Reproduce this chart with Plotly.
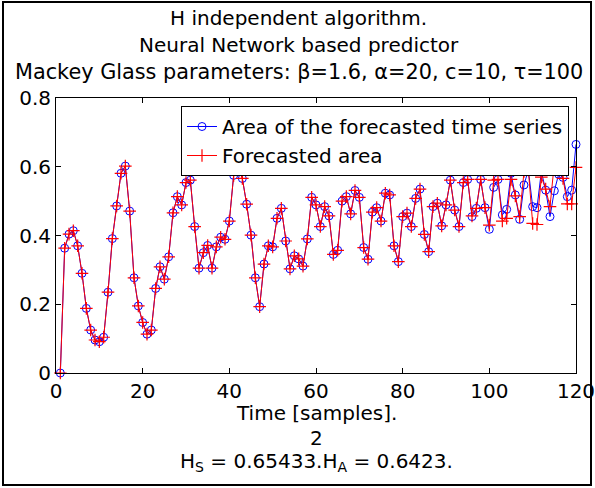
import plotly.graph_objects as go

# ---------------- data ----------------
time_samples = list(range(1, 121))

area_series = [
    0.000, 0.363, 0.404, 0.414, 0.370, 0.290, 0.188, 0.125, 0.096, 0.091,
    0.104, 0.235, 0.391, 0.486, 0.581, 0.602, 0.471, 0.277, 0.195, 0.147,
    0.113, 0.125, 0.246, 0.309, 0.273, 0.338, 0.466, 0.513, 0.489, 0.554,
    0.561, 0.426, 0.305, 0.350, 0.371, 0.305, 0.367, 0.395, 0.389, 0.442,
    0.575, 0.605, 0.566, 0.491, 0.401, 0.277, 0.193, 0.317, 0.370, 0.367,
    0.450, 0.479, 0.384, 0.303, 0.341, 0.332, 0.311, 0.390, 0.511, 0.489,
    0.426, 0.484, 0.457, 0.345, 0.357, 0.500, 0.513, 0.463, 0.531, 0.511,
    0.365, 0.331, 0.468, 0.481, 0.442, 0.523, 0.518, 0.370, 0.324, 0.455,
    0.465, 0.426, 0.508, 0.535, 0.403, 0.353, 0.484, 0.494, 0.428, 0.489,
    0.561, 0.474, 0.426, 0.554, 0.563, 0.455, 0.479, 0.563, 0.481, 0.418,
    0.540, 0.563, 0.460, 0.476, 0.581, 0.518, 0.447, 0.547, 0.591, 0.484,
    0.481, 0.586, 0.532, 0.455, 0.530, 0.578, 0.569, 0.513, 0.532, 0.665,
]

forecasted_area = [
    0.000, 0.363, 0.404, 0.414, 0.370, 0.290, 0.188, 0.125, 0.096, 0.091,
    0.104, 0.235, 0.391, 0.486, 0.581, 0.602, 0.471, 0.277, 0.195, 0.147,
    0.113, 0.125, 0.246, 0.309, 0.273, 0.338, 0.466, 0.513, 0.489, 0.554,
    0.561, 0.426, 0.305, 0.350, 0.371, 0.305, 0.367, 0.395, 0.389, 0.442,
    0.575, 0.605, 0.566, 0.491, 0.401, 0.277, 0.193, 0.317, 0.370, 0.367,
    0.450, 0.479, 0.384, 0.303, 0.341, 0.332, 0.311, 0.390, 0.511, 0.489,
    0.426, 0.484, 0.457, 0.345, 0.357, 0.500, 0.513, 0.463, 0.531, 0.511,
    0.365, 0.331, 0.468, 0.481, 0.442, 0.523, 0.518, 0.370, 0.324, 0.455,
    0.465, 0.426, 0.508, 0.535, 0.403, 0.353, 0.484, 0.494, 0.428, 0.489,
    0.561, 0.474, 0.426, 0.554, 0.563, 0.457, 0.479, 0.563, 0.481, 0.430,
    0.561, 0.563, 0.442, 0.450, 0.563, 0.515, 0.455, 0.586, 0.591, 0.435,
    0.432, 0.570, 0.535, 0.484, 0.610, 0.595, 0.566, 0.492, 0.492, 0.598,
]

x_ticks = [0, 20, 40, 60, 80, 100, 120]
y_ticks = [0, 0.2, 0.4, 0.6, 0.8]
y_tick_labels = ["0", "0.2", "0.4", "0.6", "0.8"]

title_lines = [
    "H independent algorithm.",
    "Neural Network based predictor",
    "Mackey Glass parameters: β=1.6, α=20, c=10, τ=100",
]
xlabel_lines = [
    "Time [samples].",
    "2",
    "H<sub>S</sub> = 0.65433.H<sub>A</sub> = 0.6423.",
]

# ---------------- figure ----------------
FONT = "DejaVu Sans, Liberation Sans, Arial, sans-serif"
FS = 20
W, H = 595, 488
L, R, T, B = 56, 19, 98, 115
pw, ph = W - L - R, H - T - B


def px_to_paper_x(px):
    return (px - L) / pw


def px_to_paper_y(py):
    return (H - B - py) / ph


fig = go.Figure()
fig.add_trace(go.Scatter(
    x=time_samples, y=area_series, mode="lines+markers",
    name="Area of the forecasted time series",
    line=dict(color="rgb(0,0,255)", width=1),
    marker=dict(symbol="circle-open", size=8, color="rgb(0,0,255)",
                line=dict(width=1, color="rgb(0,0,255)")),
    cliponaxis=False,
))
fig.add_trace(go.Scatter(
    x=time_samples, y=forecasted_area, mode="lines+markers",
    name="Forecasted area",
    line=dict(color="rgb(255,0,0)", width=1),
    marker=dict(symbol="cross-thin-open", size=9, color="rgb(255,0,0)",
                line=dict(width=1.2, color="rgb(255,0,0)")),
    cliponaxis=False,
))

annotations = []
title_y = [18, 45, 72]
title_fs = [20, 20, 20.8]
for txt, py, fs in zip(title_lines, title_y, title_fs):
    annotations.append(dict(
        text=txt, xref="paper", yref="paper",
        x=px_to_paper_x(W / 2 + 1), y=px_to_paper_y(py),
        xanchor="center", yanchor="middle", showarrow=False,
        font=dict(family=FONT, size=fs, color="black"),
    ))
xl_y = [413, 438, 462]
for txt, py in zip(xlabel_lines, xl_y):
    annotations.append(dict(
        text=txt, xref="paper", yref="paper",
        x=0.5, y=px_to_paper_y(py),
        xanchor="center", yanchor="middle", showarrow=False,
        font=dict(family=FONT, size=FS, color="black"),
    ))

fig.update_layout(
    width=W, height=H,
    margin=dict(l=L, r=R, t=T, b=B, pad=0, autoexpand=False),
    paper_bgcolor="white", plot_bgcolor="white",
    font=dict(family=FONT, size=FS, color="black"),
    showlegend=True,
    legend=dict(
        x=px_to_paper_x(569), y=px_to_paper_y(106),
        xanchor="right", yanchor="top",
        bgcolor="white", bordercolor="black", borderwidth=1,
        font=dict(family=FONT, size=FS, color="black"),
        itemwidth=30, tracegroupgap=0,
    ),
    annotations=annotations,
    shapes=[dict(
        type="rect", xref="paper", yref="paper",
        x0=px_to_paper_x(3), x1=px_to_paper_x(591),
        y0=px_to_paper_y(485), y1=px_to_paper_y(2),
        line=dict(color="black", width=2), fillcolor="rgba(0,0,0,0)",
        layer="above",
    )],
)
fig.update_xaxes(
    range=[0, 120], tickvals=x_ticks, ticktext=[str(v) for v in x_ticks],
    ticks="inside", ticklen=5, tickcolor="black", showgrid=False, zeroline=False,
    showline=True, linecolor="black", linewidth=1, mirror="ticks",
    tickfont=dict(family=FONT, size=FS, color="black"),
    ticklabeloverflow="allow", automargin=False,
)
fig.update_yaxes(
    range=[0, 0.8], tickvals=y_ticks, ticktext=y_tick_labels,
    ticks="inside", ticklen=5, tickcolor="black", showgrid=False, zeroline=False,
    showline=True, linecolor="black", linewidth=1, mirror="ticks",
    tickfont=dict(family=FONT, size=FS, color="black"),
    ticklabeloverflow="allow", automargin=False,
)

fig.write_html("out.html")
